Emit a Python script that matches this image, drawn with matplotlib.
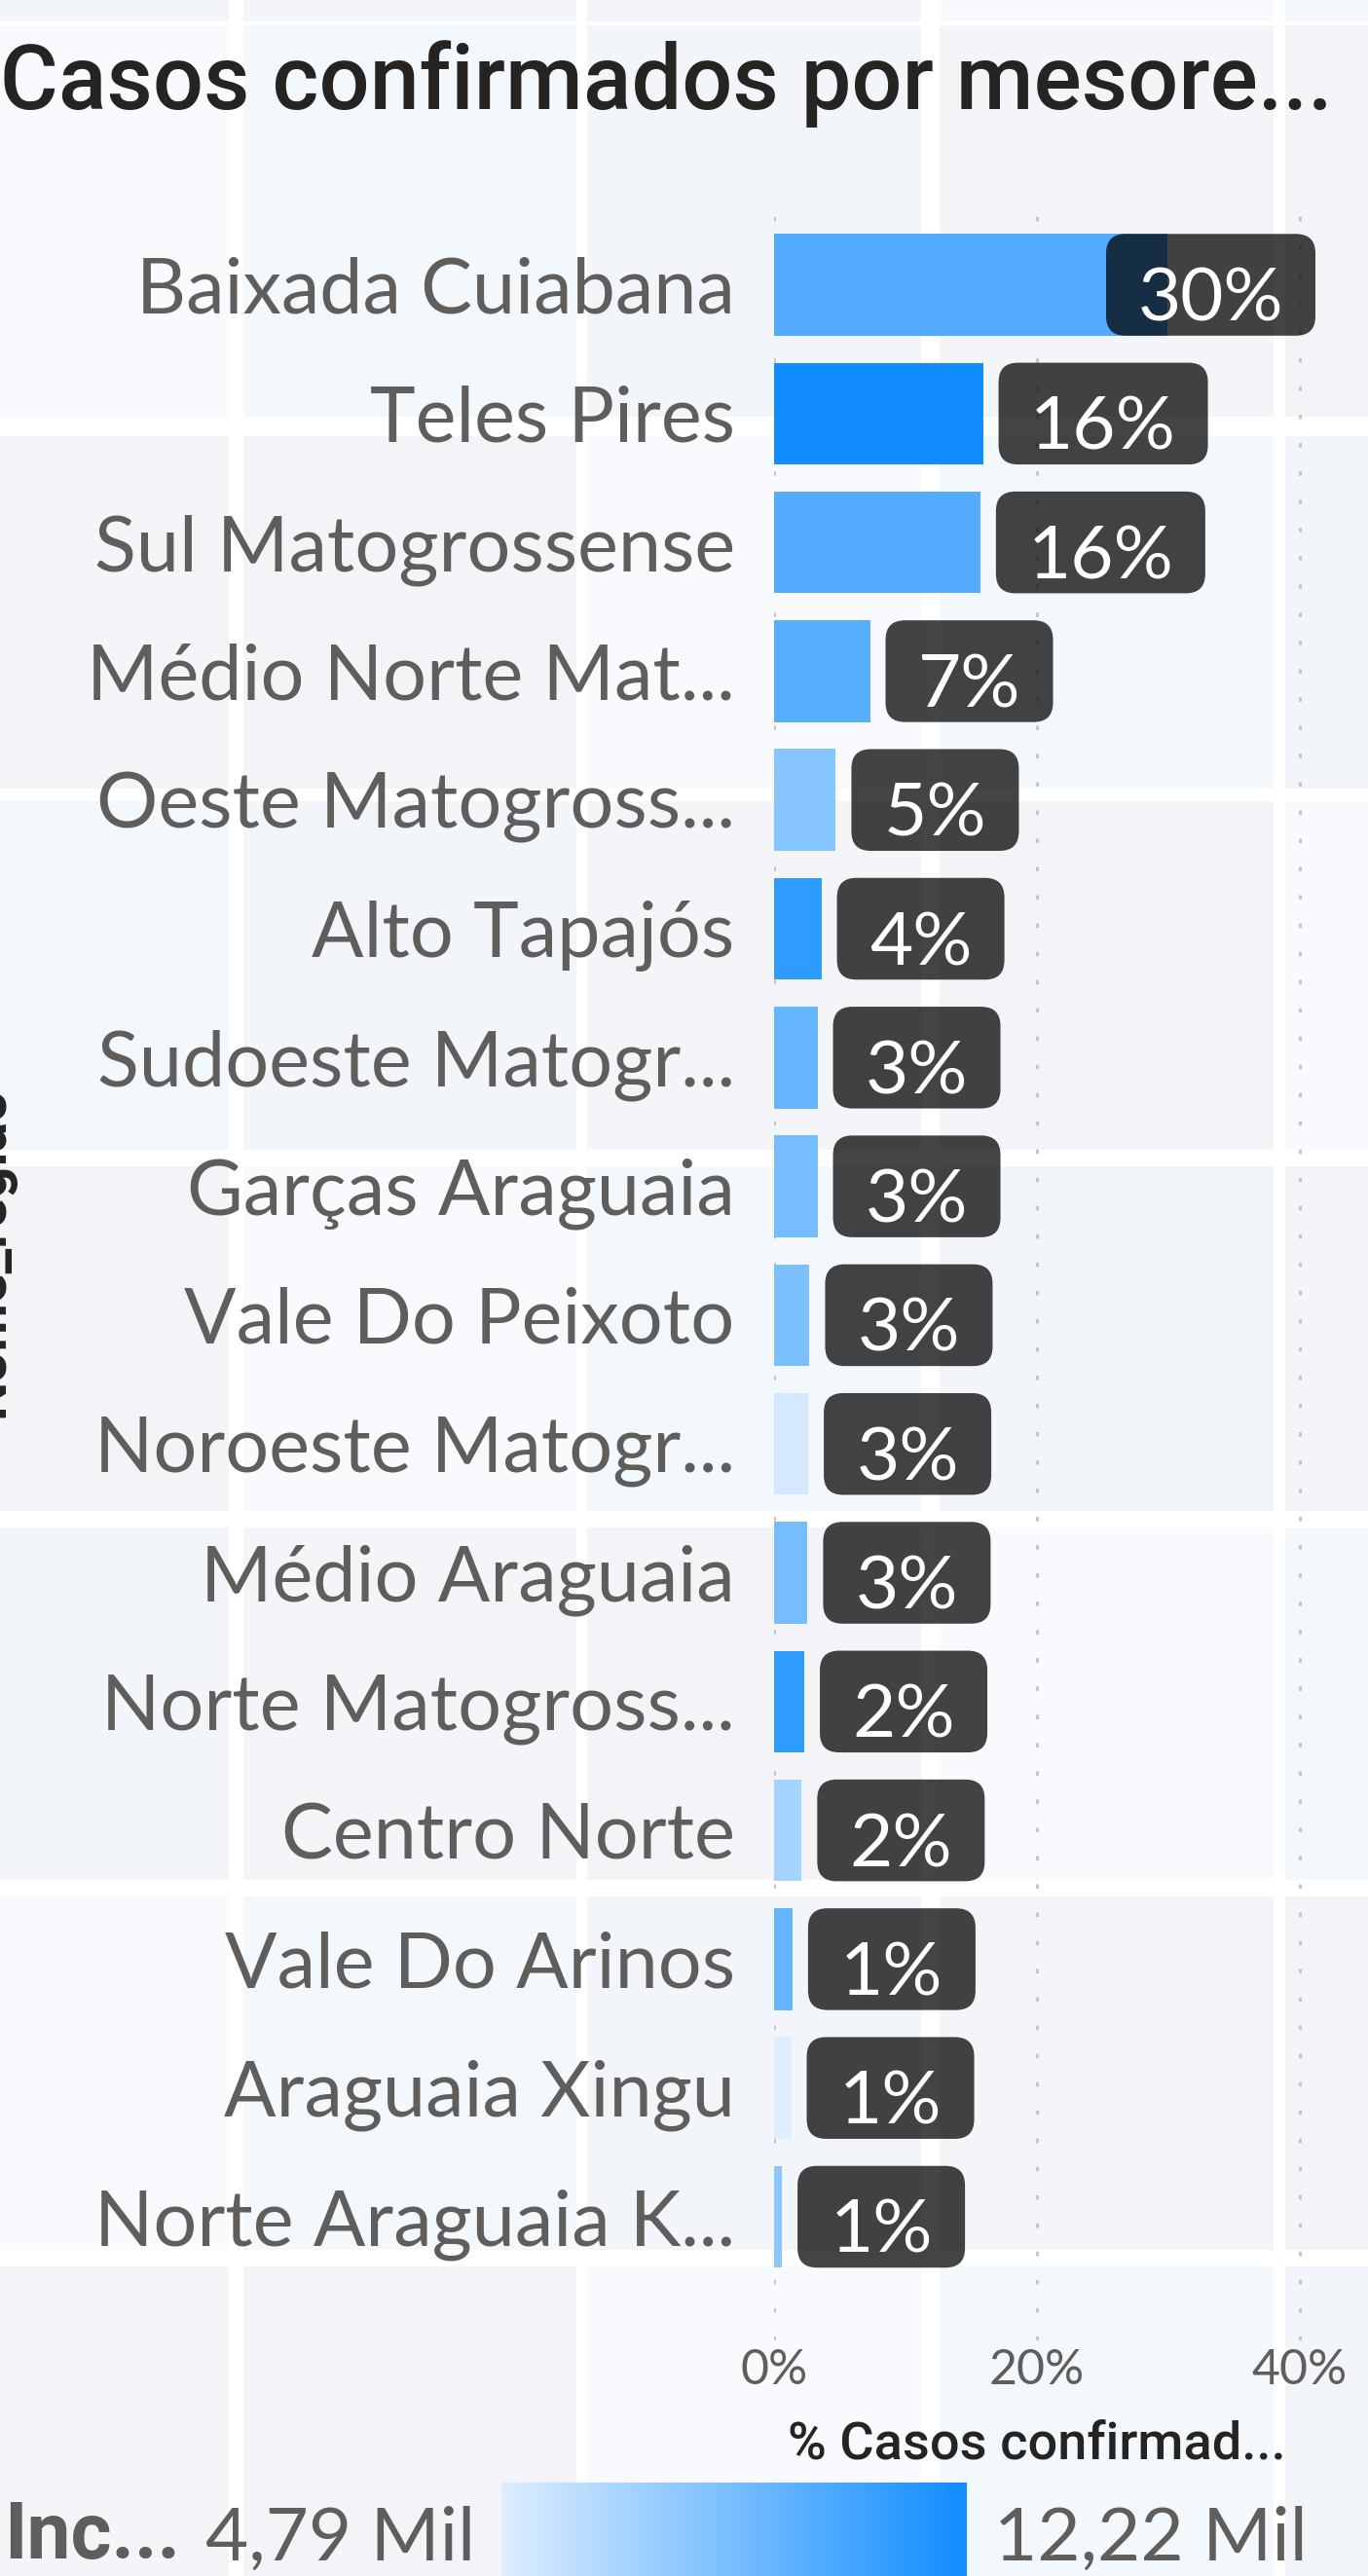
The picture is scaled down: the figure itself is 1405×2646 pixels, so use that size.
import matplotlib
matplotlib.use("Agg")
import matplotlib.pyplot as plt
import numpy as np
from matplotlib import font_manager
from matplotlib.colors import LinearSegmentedColormap, Normalize
from matplotlib.patches import FancyBboxPatch, Rectangle

# data
regions = ["Baixada Cuiabana", "Teles Pires", "Sul Matogrossense", "Médio Norte Mat...",
           "Oeste Matogross...", "Alto Tapajós", "Sudoeste Matogr...", "Garças Araguaia",
           "Vale Do Peixoto", "Noroeste Matogr...", "Médio Araguaia", "Norte Matogross...",
           "Centro Norte", "Vale Do Arinos", "Araguaia Xingu", "Norte Araguaia K..."]
pct_casos = [29.9, 15.9, 15.7, 7.3, 4.7, 3.6, 3.3, 3.3, 2.7, 2.6, 2.55, 2.3, 2.1, 1.4, 1.3, 0.6]
incidencia = [9830, 12220, 9830, 9700, 7980, 11170, 9140, 8590, 8380, 5150, 8560, 11170,
              6860, 9140, 4790, 7840]
x_ticks = [0, 20, 40]

W, H = 1405, 2646
names = {f.name for f in font_manager.fontManager.ttflist}
body_font = ["Lato", "DejaVu Sans"]
din_font = ["Liberation Sans Narrow" if "Liberation Sans Narrow" in names else "Roboto", "DejaVu Sans"]
grey = "#605E5C"
dark = "#252423"

fig = plt.figure(figsize=(W / 100, H / 100), dpi=100)
fig.patch.set_facecolor("white")

# faint tiled report background
tile_cols = [(0, 235), (250, 592), (603, 946), (965, 1308), (1320, 1405)]
tile_rows = [(0, 22), (26, 428), (448, 810), (823, 1181), (1198, 1552), (1569, 1931),
             (1948, 2311), (2328, 2646)]
shades = ["#F2F5FA", "#F8FAFD", "#F3F5F9", "#F2F8FB", "#F4F4F8"]
for i, (x0, x1) in enumerate(tile_cols):
    for j, (y0, y1) in enumerate(tile_rows):
        fig.add_artist(Rectangle((x0 / W, 1 - y1 / H), (x1 - x0) / W, (y1 - y0) / H,
                                 transform=fig.transFigure, facecolor=shades[(2 * i + j) % 5],
                                 edgecolor="none", zorder=0))

ax = fig.add_axes([795 / W, 1 - 2404 / H, (1351 - 795) / W, (2404 - 199) / H])
ax.patch.set_alpha(0)

cmap = LinearSegmentedColormap.from_list("inc", ["#DEEEFF", "#118DFF"])
norm = Normalize(min(incidencia), max(incidencia))
y = np.arange(len(regions))
bar_h = 0.79
ax.barh(y, pct_casos, height=bar_h, color=cmap(norm(incidencia)), zorder=2)

ax.set_xlim(0, 41.2)
ax.set_ylim(15.96, -0.707)
ax.set_yticks(y, regions)
ax.set_xticks(x_ticks, [f"{t}%" for t in x_ticks])
ax.tick_params(axis="y", length=0, pad=29, labelsize=57, labelcolor=grey)
ax.tick_params(axis="x", length=0, pad=6, labelsize=36, labelcolor=grey)
for lab in ax.get_yticklabels() + ax.get_xticklabels():
    lab.set_fontfamily(body_font)
ax.grid(axis="x", color="#C8C6C4", linestyle=(0, (1.5, 8)), linewidth=2.2)
ax.set_axisbelow(True)
for s in ax.spines.values():
    s.set_visible(False)

# data labels in dark rounded boxes
px_x = ax.transData.transform((1, 0))[0] - ax.transData.transform((0, 0))[0]
px_y = abs(ax.transData.transform((0, 1))[1] - ax.transData.transform((0, 0))[1])
xmax = ax.get_xlim()[1]
for i, p in enumerate(pct_casos):
    txt = f"{int(p + 0.5)}%"
    w = 43 * (len(txt) + 2) / px_x
    x0 = min(p + 16 / px_x, xmax - w)
    box = FancyBboxPatch((x0, i - bar_h / 2), w, bar_h,
                         boxstyle=f"round,pad=0,rounding_size={20 / px_x}",
                         mutation_aspect=px_x / px_y, facecolor="black", alpha=0.735,
                         edgecolor="none", zorder=3)
    ax.add_patch(box)
    ax.text(x0 + w / 2, i + 37 / px_y, txt, ha="center", va="baseline", fontsize=55,
            color="white", family=body_font, zorder=4)

fig.text(0, 1 - 112 / H, "Casos confirmados por mesore...", ha="left", va="baseline",
         fontsize=66, family=din_font, weight="medium", color=dark)
fig.text(15 / W, 1 - 1286 / H, "Nome_regiao", rotation=90, ha="right", va="center",
         fontsize=41, family=din_font, weight="bold", color=dark)
fig.text(1065 / W, 1 - 2525 / H, "% Casos confirmad...", ha="center", va="baseline",
         fontsize=39, family=din_font, weight="medium", color=dark)

# colour legend
lax = fig.add_axes([515 / W, 0, (993 - 515) / W, 96 / H])
lax.imshow(np.linspace(0, 1, 256)[None, :], aspect="auto", cmap=cmap,
           extent=[min(incidencia), max(incidencia), 0, 1])
lax.axis("off")
fmt = lambda v: f"{v / 1000:.2f} Mil".replace(".", ",")
fig.text(4 / W, 1 - 2628 / H, "Inc...", ha="left", va="baseline", fontsize=58,
         family=din_font, weight="bold", color=grey)
fig.text(488 / W, 1 - 2630 / H, fmt(min(incidencia)), ha="right", va="baseline",
         fontsize=55, family=body_font, color=grey)
fig.text(1021 / W, 1 - 2630 / H, fmt(max(incidencia)), ha="left", va="baseline",
         fontsize=55, family=body_font, color=grey)

fig.savefig("out.png", dpi=100, facecolor=fig.get_facecolor())
